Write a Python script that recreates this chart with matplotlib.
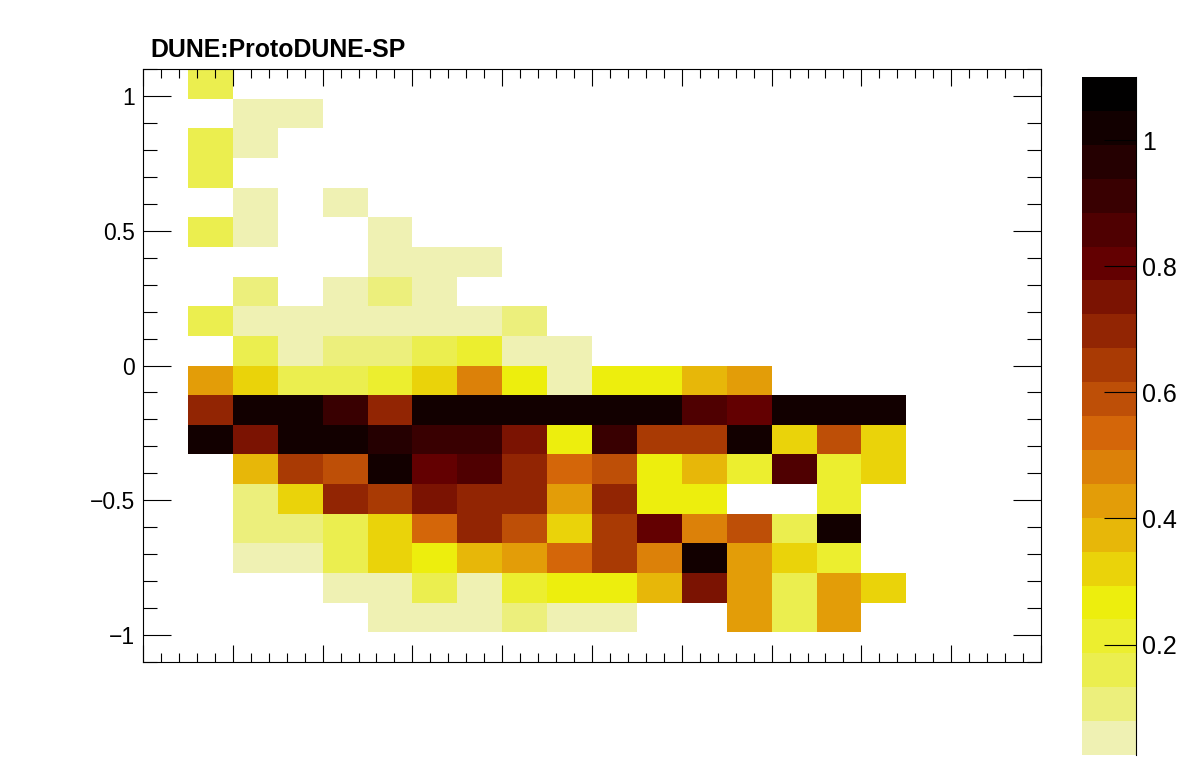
import numpy as np
import matplotlib
matplotlib.use('Agg')
import matplotlib.pyplot as plt
from matplotlib.colors import ListedColormap, BoundaryNorm
from matplotlib.ticker import MultipleLocator, FuncFormatter

plt.rcParams['font.family'] = ['Liberation Sans', 'DejaVu Sans']

title = 'DUNE:ProtoDUNE-SP'

# bin edges: 20 x 20 bins
x_edges = np.arange(21)
y_edges = np.round(np.linspace(-1.1, 1.1, 21), 2)

# z range of the colour scale, 20 contour levels
z_min, z_max = 0.025, 1.1
n_levels = 20

# cell contents, read row by row from the top (y = 1.1) down; 0 = empty
cells = [
    [0, .16, 0, 0, 0, 0, 0, 0, 0, 0, 0, 0, 0, 0, 0, 0, 0, 0, 0, 0],
    [0, 0, .05, .05, 0, 0, 0, 0, 0, 0, 0, 0, 0, 0, 0, 0, 0, 0, 0, 0],
    [0, .16, .05, 0, 0, 0, 0, 0, 0, 0, 0, 0, 0, 0, 0, 0, 0, 0, 0, 0],
    [0, .16, 0, 0, 0, 0, 0, 0, 0, 0, 0, 0, 0, 0, 0, 0, 0, 0, 0, 0],
    [0, 0, .05, 0, .05, 0, 0, 0, 0, 0, 0, 0, 0, 0, 0, 0, 0, 0, 0, 0],
    [0, .16, .05, 0, 0, .05, 0, 0, 0, 0, 0, 0, 0, 0, 0, 0, 0, 0, 0, 0],
    [0, 0, 0, 0, 0, .05, .05, .05, 0, 0, 0, 0, 0, 0, 0, 0, 0, 0, 0, 0],
    [0, 0, .11, 0, .05, .11, .05, 0, 0, 0, 0, 0, 0, 0, 0, 0, 0, 0, 0, 0],
    [0, .16, .05, .05, .05, .05, .05, .05, .11, 0, 0, 0, 0, 0, 0, 0, 0, 0, 0, 0],
    [0, 0, .16, .05, .11, .11, .16, .21, .05, .05, 0, 0, 0, 0, 0, 0, 0, 0, 0, 0],
    [0, .43, .32, .16, .16, .21, .32, .48, .27, .05, .27, .27, .37, .43, 0, 0, 0, 0, 0, 0],
    [0, .70, 1.02, 1.02, .91, .70, 1.02, 1.02, 1.02, 1.02, 1.02, 1.02, .86, .80, 1.02, 1.02, 1.02, 0, 0, 0],
    [0, 1.02, .75, 1.02, 1.02, .97, .91, .91, .75, .27, .91, .64, .64, 1.02, .32, .59, .32, 0, 0, 0],
    [0, 0, .37, .64, .59, 1.02, .80, .86, .70, .54, .59, .27, .37, .21, .86, .21, .32, 0, 0, 0],
    [0, 0, .11, .32, .70, .64, .75, .70, .70, .43, .70, .27, .27, 0, 0, .21, 0, 0, 0, 0],
    [0, 0, .11, .11, .16, .32, .54, .70, .59, .32, .64, .80, .48, .59, .16, 1.02, 0, 0, 0, 0],
    [0, 0, .05, .05, .16, .32, .27, .37, .43, .54, .64, .48, 1.02, .43, .32, .21, 0, 0, 0, 0],
    [0, 0, 0, 0, .05, .05, .16, .05, .21, .27, .27, .37, .75, .43, .16, .43, .32, 0, 0, 0],
    [0, 0, 0, 0, 0, .05, .05, .05, .11, .05, .05, 0, 0, .43, .16, .43, 0, 0, 0, 0],
    [0, 0, 0, 0, 0, 0, 0, 0, 0, 0, 0, 0, 0, 0, 0, 0, 0, 0, 0, 0],
]

# ROOT inverted dark body radiator palette (255 colours, 20 levels)
pal_r = [242, 234, 237, 230, 212, 156, 99, 45, 0]
pal_g = [243, 238, 238, 168, 101, 45, 0, 0, 0]
pal_b = [230, 95, 11, 8, 9, 3, 1, 1, 0]
pal_stops = np.linspace(0, 1, 9)
idx = ((np.arange(n_levels) + 0.99) * 255 / n_levels).astype(int)
frac = idx / 255
level_colors = np.column_stack([np.interp(frac, pal_stops, c) for c in (pal_r, pal_g, pal_b)]) / 255
cmap = ListedColormap(level_colors)
levels = np.linspace(z_min, z_max, n_levels + 1)
norm = BoundaryNorm(levels, n_levels)

z = np.ma.masked_less(np.flipud(np.array(cells, dtype=float)), z_min)

fig = plt.figure(figsize=(11.96, 7.72), dpi=100)
ax = fig.add_axes([143 / 1196, 1 - 662 / 772, 898 / 1196, 593 / 772])
mesh = ax.pcolormesh(x_edges, y_edges, z, cmap=cmap, norm=norm,
                     edgecolors='none', antialiased=False)
ax.set_xlim(x_edges[0], x_edges[-1])
ax.set_ylim(y_edges[0], y_edges[-1])


def fmt(v, pos=None):
    return f'{round(v, 6) + 0:g}'.replace('-', '\u2212')


ax.xaxis.set_major_locator(MultipleLocator(2))
ax.xaxis.set_minor_locator(MultipleLocator(0.4))
ax.yaxis.set_major_locator(MultipleLocator(0.5))
ax.yaxis.set_minor_locator(MultipleLocator(0.1))
ax.yaxis.set_major_formatter(FuncFormatter(fmt))
ax.tick_params(which='both', direction='in', top=True, right=True,
               labelbottom=False, width=0.8, colors='black')
ax.tick_params(axis='x', which='major', length=12.5)
ax.tick_params(axis='x', which='minor', length=6.5)
ax.tick_params(axis='y', which='major', length=20, labelsize=16.5, pad=5.5)
ax.tick_params(axis='y', which='minor', length=10)
for s in ax.spines.values():
    s.set_linewidth(0.8)

fig.text(150 / 1196, 1 - 57 / 772, title, fontsize=17.9, fontweight='bold',
         ha='left', va='baseline')

cax = fig.add_axes([1082 / 1196, 1 - 755 / 772, 54 / 1196, 678 / 772])
cbar = fig.colorbar(mesh, cax=cax)
cbar.outline.set_visible(False)
cbar.set_ticks([0.2, 0.4, 0.6, 0.8, 1.0])
cbar.ax.yaxis.set_major_formatter(FuncFormatter(fmt))
cbar.minorticks_off()
cax.tick_params(axis='y', direction='in', length=23, width=0.8,
                right=True, left=False, labelsize=18, pad=4.3)
cax.plot([1, 1], [0, 1], transform=cax.transAxes, color='black',
         lw=0.8, clip_on=False)

fig.savefig('out.png', dpi=100)
